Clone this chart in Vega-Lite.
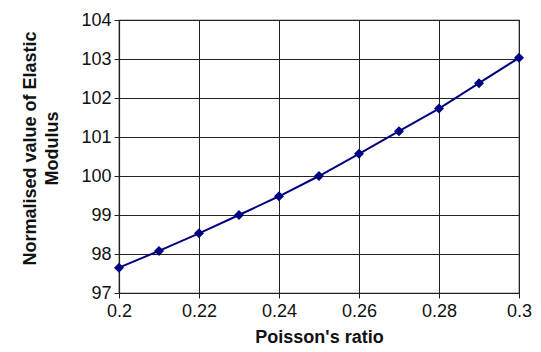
{
  "$schema": "https://vega.github.io/schema/vega-lite/v6.json",
  "width": 400,
  "height": 273,
  "autosize": {"type": "none"},
  "padding": {"left": 119, "top": 20, "right": 22, "bottom": 59},
  "background": "white",
  "config": {
    "font": "Liberation Sans",
    "view": {"stroke": "#222", "strokeWidth": 1.2},
    "axis": {
      "labelFont": "Liberation Sans",
      "titleFont": "Liberation Sans",
      "labelFontSize": 18,
      "titleFontSize": 18,
      "titleFontWeight": "bold",
      "labelColor": "#111",
      "titleColor": "#111",
      "labelFlush": false,
      "domainColor": "#222",
      "domainWidth": 1.2,
      "tickColor": "#222",
      "tickSize": 5,
      "gridColor": "#222",
      "gridWidth": 1,
      "gridOpacity": 1
    }
  },
  "data": {
    "values": [
      {"nu": 0.20, "E": 97.65},
      {"nu": 0.21, "E": 98.08},
      {"nu": 0.22, "E": 98.53},
      {"nu": 0.23, "E": 99.0},
      {"nu": 0.24, "E": 99.48},
      {"nu": 0.25, "E": 100.0},
      {"nu": 0.26, "E": 100.57},
      {"nu": 0.27, "E": 101.15},
      {"nu": 0.28, "E": 101.73},
      {"nu": 0.29, "E": 102.38},
      {"nu": 0.30, "E": 103.03}
    ]
  },
  "encoding": {
    "x": {
      "field": "nu",
      "type": "quantitative",
      "scale": {"domain": [0.2, 0.3], "nice": false, "zero": false},
      "axis": {
        "values": [0.2, 0.22, 0.24, 0.26, 0.28, 0.3],
        "format": "~g",
        "title": "Poisson's ratio",
        "labelPadding": 4,
        "titlePadding": 8
      }
    },
    "y": {
      "field": "E",
      "type": "quantitative",
      "scale": {"domain": [97, 104], "nice": false, "zero": false},
      "axis": {
        "values": [97, 98, 99, 100, 101, 102, 103, 104],
        "title": ["Normalised value of Elastic", "Modulus"],
        "labelPadding": 3,
        "titleX": -80,
        "titleY": 128,
        "titleLineHeight": 22
      }
    }
  },
  "layer": [
    {"mark": {"type": "line", "color": "#000080", "strokeWidth": 2}},
    {"mark": {"type": "point", "shape": "diamond", "filled": true, "color": "#000080", "size": 100, "opacity": 1}}
  ]
}
